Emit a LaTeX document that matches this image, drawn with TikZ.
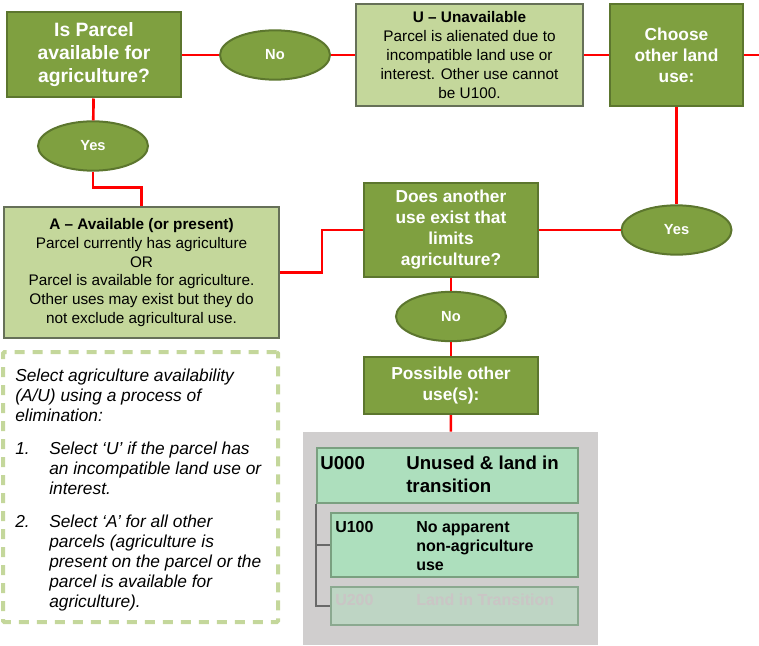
\documentclass[tikz,border=0pt]{standalone}
\usepackage{fontspec}
\setmainfont{Liberation Sans}
\usetikzlibrary{shapes.geometric}

\definecolor{olivefill}{RGB}{127,160,64}
\definecolor{oliveline}{RGB}{92,118,46}
\definecolor{palefill}{RGB}{196,215,155}
\definecolor{paleline}{RGB}{102,112,88}
\definecolor{mintfill}{RGB}{173,223,189}
\definecolor{mintline}{RGB}{122,160,128}
\definecolor{fadefill}{RGB}{190,213,196}
\definecolor{fadetext}{RGB}{202,197,197}
\definecolor{panelgray}{RGB}{208,206,206}
\definecolor{treegray}{RGB}{105,105,105}
\definecolor{notedash}{RGB}{196,215,155}

\tikzset{
    question/.style={draw=oliveline, fill=olivefill, line width=1.5pt, text=white,
        align=center, inner sep=2pt, font=\fontsize{13}{15.75}\selectfont\bfseries},
    answer/.style={ellipse, draw=oliveline, fill=olivefill, line width=1.5pt, text=white,
        minimum width=82.5pt, minimum height=37pt, inner sep=0pt,
        font=\fontsize{11}{13}\selectfont\bfseries},
    outcome/.style={draw=paleline, fill=palefill, line width=1.5pt, align=center,
        inner sep=2pt, font=\fontsize{11.5}{14.1}\selectfont},
    usebox/.style={draw=mintline, fill=mintfill, line width=1.5pt, inner sep=0pt,
        minimum width=185.25pt},
    usetext/.style={anchor=north west, inner sep=0pt, align=left},
    notetext/.style={anchor=north west, inner sep=0pt, align=left,
        font=\fontsize{13}{15}\selectfont\itshape},
    link/.style={red, line width=2pt},
    tree/.style={treegray, line width=1.8pt},
}

\begin{document}
\begin{tikzpicture}[x=0.75pt, y=-0.75pt]
    \useasboundingbox (0,0) rectangle (759,645);

    % First question (top row)
    \node[question, minimum width=130.5pt, minimum height=63.75pt,
        font=\fontsize{14.5}{17.25}\selectfont\bfseries] (parcel) at (94,55)
        {Is Parcel\\available for\\agriculture?};
    \node[answer] (noA) at (275,55) {No};
    \node[outcome, minimum width=170.25pt, minimum height=76.5pt] (unavail) at (469.5,55)
        {\textbf{U -- Unavailable}\\Parcel is alienated due to\\incompatible land use or\\interest. Other use cannot\\be U100.};
    \node[question, minimum width=99.75pt, minimum height=76.5pt] (choose) at (676.5,55)
        {Choose\\other land\\use:};
    \coordinate (rim) at (759,55);

    % Left branch
    \node[answer] (yesA) at (93,146) {Yes};
    \node[outcome, minimum width=206.25pt, minimum height=98.25pt] (avail) at (141.5,272.5)
        {\textbf{A -- Available (or present)}\\Parcel currently has agriculture\\OR\\Parcel is available for agriculture.\\Other uses may exist but they do\\not exclude agricultural use.};

    % Second question
    \node[question, minimum width=130.5pt, minimum height=70.5pt] (limits) at (451,230)
        {Does another\\use exist that\\limits\\agriculture?};
    \node[answer] (yesB) at (676.5,230) {Yes};
    \node[answer] (noB) at (451,316.5) {No};
    \node[question, minimum width=130.5pt, minimum height=42.75pt] (possible) at (451,385.5)
        {Possible other\\use(s):};

    % Land use codes
    \node[fill=panelgray, inner sep=0pt, minimum width=221.25pt, minimum height=159.75pt]
        (panel) at (450.5,538.5) {};
    \node[usebox, minimum width=195.75pt, minimum height=41.25pt] (uzero) at (447.5,475.5) {};
    \node[usebox, minimum height=48pt] (uone) at (454.5,545) {};
    \node[usebox, fill=fadefill, draw=mintline!80!panelgray, minimum height=28.5pt]
        (utwo) at (454.5,606) {};
    \node[usetext, font=\fontsize{14}{17.25}\selectfont\bfseries] (uzerocode) at (320,456) {U000};
    \node[usetext, font=\fontsize{14}{17.25}\selectfont\bfseries] (uzeroname) at (406,456)
        {Unused \& land in\\transition};
    \node[usetext, font=\fontsize{12}{14.25}\selectfont\bfseries] (uonecode) at (335,521) {U100};
    \node[usetext, font=\fontsize{12}{14.25}\selectfont\bfseries] (uonename) at (416,521)
        {No apparent\\non-agriculture\\use};
    \node[usetext, text=fadetext, font=\fontsize{12}{14.25}\selectfont\bfseries] (utwocode) at (335,594) {U200};
    \node[usetext, text=fadetext, font=\fontsize{12}{14.25}\selectfont\bfseries] (utwoname) at (416,594)
        {Land in Transition};
    \draw[tree] (uzero.south west) |- (utwo.west);
    \draw[tree] (uzero.south west |- uone.west) -- (uone.west);

    % Instructions
    \node[draw=notedash, line width=3pt, dash pattern=on 7.5pt off 6pt, rounded corners=1pt,
        minimum width=206.25pt, minimum height=202.5pt] (note) at (140.5,487) {};
    \node[notetext] (noteintro) at (15,369)
        {Select agriculture availability\\(A/U) using a process of\\elimination:};
    \node[notetext] (numone) at (15,442) {1.};
    \node[notetext] (stepone) at (49,442)
        {Select ‘U’ if the parcel has\\an incompatible land use or\\interest.};
    \node[notetext] (numtwo) at (15,515) {2.};
    \node[notetext] (steptwo) at (49,515)
        {Select ‘A’ for all other\\parcels (agriculture is\\present on the parcel or the\\parcel is available for\\agriculture).};

    % Connectors
    \draw[link] (parcel) -- (noA);
    \draw[link] (noA) -- (unavail);
    \draw[link] (unavail) -- (choose);
    \draw[link] (choose) -- (rim);
    \draw[link] (parcel) -- (yesA);
    \draw[link] (yesA.south) -- ++(0,16) -| (avail.north);
    \draw[link] (avail.east) -- ++(42,0) |- (limits.west);
    \draw[link] (choose) -- (yesB);
    \draw[link] (yesB) -- (limits);
    \draw[link] (limits) -- (noB);
    \draw[link] (noB) -- (possible);
    \draw[link] (possible) -- (panel);
\end{tikzpicture}
\end{document}
